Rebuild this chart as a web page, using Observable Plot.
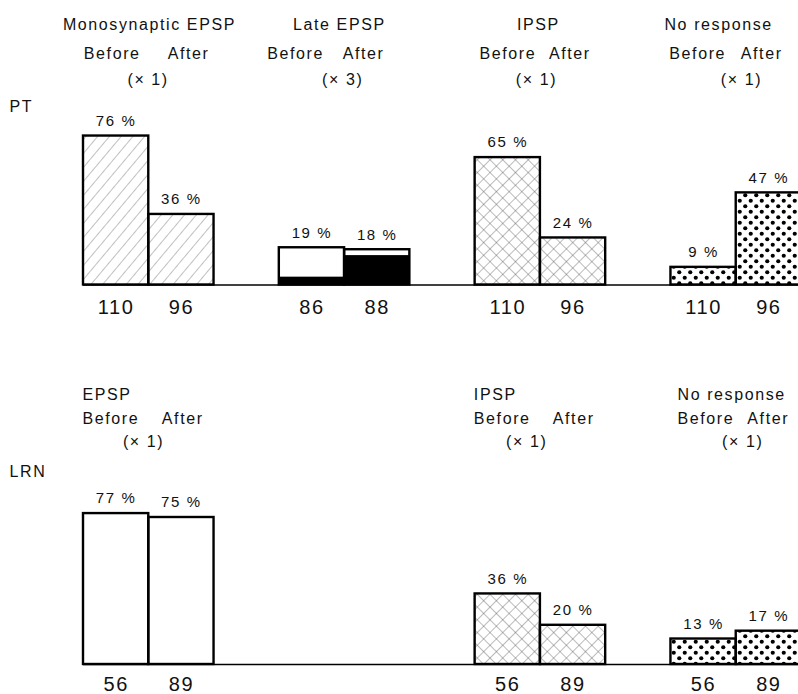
<!DOCTYPE html>
<html><head><meta charset="utf-8">
<script src="https://cdn.jsdelivr.net/npm/d3@7"></script>
<script src="https://cdn.jsdelivr.net/npm/@observablehq/plot@0.6"></script>
<style>
body{margin:0;background:#fff;overflow:hidden;}
#chart{width:798px;}
#chart svg{display:block;overflow:hidden;}
#chart svg text{letter-spacing:1.6px;}
</style></head><body>
<svg width="0" height="0" style="position:absolute">
<defs>
<pattern id="hatch" width="9" height="9" patternUnits="userSpaceOnUse" patternTransform="rotate(40)">
 <line x1="0" y1="-1" x2="0" y2="10" stroke="#6a6a6a" stroke-width="0.85"/>
</pattern>
<pattern id="cross" width="9" height="9" patternUnits="userSpaceOnUse" patternTransform="rotate(45)">
 <line x1="0" y1="-1" x2="0" y2="10" stroke="#555" stroke-width="0.8"/>
 <line x1="-1" y1="0" x2="10" y2="0" stroke="#555" stroke-width="0.8"/>
</pattern>
<pattern id="dots" width="11" height="11" patternUnits="userSpaceOnUse">
 <circle cx="2.75" cy="2.75" r="2.1" fill="#000"/>
 <circle cx="8.25" cy="8.25" r="2.1" fill="#000"/>
</pattern>
</defs></svg>
<div id="chart"></div>
<script>
// ---- data ----
const phases = ["Before", "After"];

const ptGroups = ["Monosynaptic EPSP", "Late EPSP", "IPSP", "No response"];
const ptFactor = ["× 1", "× 3", "× 1", "× 1"];
const ptBefore = [76, 19, 65, 9];
const ptAfter = [36, 18, 24, 47];
const ptNBefore = [110, 86, 110, 110];
const ptNAfter = [96, 88, 96, 96];
const lateEpspFilled = [4, 15]; // black part of the Late EPSP bars (Before, After)

const lrnGroups = ["EPSP", "IPSP", "No response"];
const lrnColumn = [0, 2, 3];
const lrnFactor = ["× 1", "× 1", "× 1"];
const lrnBefore = [77, 36, 13];
const lrnAfter = [75, 20, 17];
const lrnNBefore = [56, 56, 56];
const lrnNAfter = [89, 89, 89];

// ---- layout (header offsets in bar-slot units) ----
const ptTitleAt  = [1.01, 0.92, 0.97, 0.73];
const ptBeforeAt = [0.44, 0.25, 0.50, 0.41];
const ptAfterAt  = [1.61, 1.29, 1.45, 1.39];
const ptFactorAt = [0.99, 0.97, 0.94, 1.08];
const lrnTitleAt  = [-0.015, -0.02, 0.10];
const lrnAfterAt  = [1.52, 1.51, 1.49];
const lrnFactorAt = [0.92, 0.79, 1.10];

// ---- styling ----
const fillFor = {
  "Monosynaptic EPSP": "url(#hatch)",
  "Late EPSP": "white",
  "IPSP": "url(#cross)",
  "No response": "url(#dots)",
  "EPSP": "white"
};
const FONT = "Liberation Sans, Arial, Helvetica, sans-serif";

function rowsFor(groups, cols, before, after, nB, nA) {
  const rows = [];
  groups.forEach((g, i) => {
    [before[i], after[i]].forEach((v, j) => {
      rows.push({group: g, col: cols[i], phase: phases[j], slot: cols[i] * 3 + j,
        value: v, n: (j === 0 ? nB : nA)[i], fill: fillFor[g]});
    });
  });
  return rows;
}
const ptRows = rowsFor(ptGroups, [0, 1, 2, 3], ptBefore, ptAfter, ptNBefore, ptNAfter);
const lrnRows = rowsFor(lrnGroups, lrnColumn, lrnBefore, lrnAfter, lrnNBefore, lrnNAfter);
const lateRows = ptRows.filter(d => d.group === "Late EPSP").map((d, j) => ({...d, filled: lateEpspFilled[j]}));

const ptHead = ptGroups.map((g, i) => ({group: g, col: i, factor: ptFactor[i],
  t: ptTitleAt[i], b: ptBeforeAt[i], a: ptAfterAt[i], f: ptFactorAt[i]}));
const lrnHead = lrnGroups.map((g, i) => ({group: g, col: lrnColumn[i], factor: lrnFactor[i],
  t: lrnTitleAt[i], b: lrnTitleAt[i], a: lrnAfterAt[i], f: lrnFactorAt[i]}));

const xScale = {type: "linear", domain: [0, 11], range: [83, 801], axis: null};
const PXPCT = 1.96;

function barMarks(rows, extra, nDy) {
  return [
    Plot.rect(rows, {x1: "slot", x2: d => d.slot + 1, y1: 0, y2: "value", fill: "fill"}),
    ...extra,
    Plot.rect(rows, {x1: "slot", x2: d => d.slot + 1, y1: 0, y2: "value", fill: "none", stroke: "black", strokeWidth: 2.4}),
    Plot.ruleY([0], {x1: 0, x2: 11, stroke: "black", strokeWidth: 1.3}),
    Plot.text(rows, {x: d => d.slot + 0.5, y: "value", text: d => d.value + " %", dy: -15, fontSize: 15}),
    Plot.text(rows, {x: d => d.slot + 0.5, y: 0, text: "n", dy: nDy, fontSize: 20})
  ];
}

// ---- PT panel ----
const ptBase = 284.5;
const pt = Plot.plot({
  width: 798, height: 320,
  marginTop: 0, marginBottom: 35.5, marginLeft: 0, marginRight: 0,
  style: {fontFamily: FONT, color: "#111", background: "white"},
  x: xScale,
  y: {domain: [0, 100], range: [ptBase, ptBase - 100 * PXPCT], axis: null},
  color: {type: "identity"},
  marks: [
    ...barMarks(ptRows, [
      Plot.rect(lateRows, {x1: "slot", x2: d => d.slot + 1, y1: 0, y2: "filled", fill: "black"})
    ], 23),
    Plot.text(ptHead, {x: d => d.col * 3 + d.t, frameAnchor: "top", dy: 18, text: "group", fontSize: 16}),
    Plot.text(ptHead, {x: d => d.col * 3 + d.b, frameAnchor: "top", dy: 47, text: () => "Before", fontSize: 16}),
    Plot.text(ptHead, {x: d => d.col * 3 + d.a, frameAnchor: "top", dy: 47, text: () => "After", fontSize: 16}),
    Plot.text(ptHead, {x: d => d.col * 3 + d.f, frameAnchor: "top", dy: 73, text: d => "(" + d.factor + ")", fontSize: 16}),
    Plot.text(["PT"], {frameAnchor: "top-left", dx: 9, dy: 100, text: d => d, fontSize: 16})
  ]
});

// ---- LRN panel ----
const lrnBase = 344;
const lrn = Plot.plot({
  width: 798, height: 374,
  marginTop: 0, marginBottom: 30, marginLeft: 0, marginRight: 0,
  style: {fontFamily: FONT, color: "#111", background: "white"},
  x: xScale,
  y: {domain: [0, 100], range: [lrnBase, lrnBase - 100 * PXPCT], axis: null},
  color: {type: "identity"},
  marks: [
    ...barMarks(lrnRows, [], 20),
    Plot.text(lrnHead, {x: d => d.col * 3 + d.t, frameAnchor: "top", dy: 68, text: "group", textAnchor: "start", fontSize: 16}),
    Plot.text(lrnHead, {x: d => d.col * 3 + d.b, frameAnchor: "top", dy: 92, text: () => "Before", textAnchor: "start", fontSize: 16}),
    Plot.text(lrnHead, {x: d => d.col * 3 + d.a, frameAnchor: "top", dy: 92, text: () => "After", fontSize: 16}),
    Plot.text(lrnHead, {x: d => d.col * 3 + d.f, frameAnchor: "top", dy: 115, text: d => "(" + d.factor + ")", fontSize: 16}),
    Plot.text(["LRN"], {frameAnchor: "top-left", dx: 9, dy: 145, text: d => d, fontSize: 16})
  ]
});

const chart = document.getElementById("chart");
chart.appendChild(pt);
chart.appendChild(lrn);
</script>
</body></html>
